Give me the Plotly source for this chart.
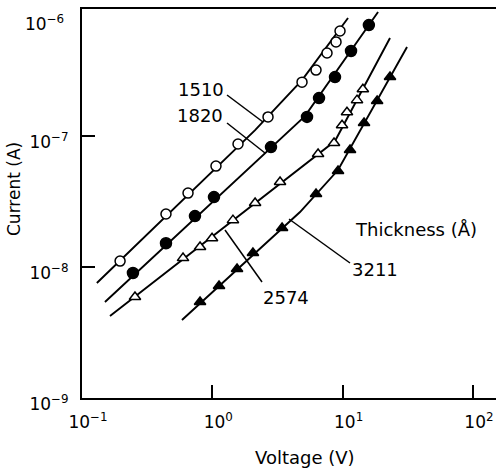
import plotly.graph_objects as go

# ---- data (Voltage in V, Current in A) ----
v_1510 = [0.196, 0.441, 0.651, 1.067, 1.575, 2.676, 4.88, 6.25, 7.59, 8.90, 9.55]
i_1510 = [1.11e-8, 2.54e-8, 3.67e-8, 5.90e-8, 8.69e-8, 1.40e-7, 2.58e-7, 3.19e-7, 4.31e-7, 5.23e-7, 6.34e-7]
fit_v_1510 = [0.130, 2.13, 4.88, 11.0]
fit_i_1510 = [7.55e-9, 1.11e-7, 2.67e-7, 7.96e-7]

v_1820 = [0.246, 0.441, 0.736, 1.03, 2.82, 5.33, 6.59, 8.74, 11.6, 15.9]
i_1820 = [9.0e-9, 1.52e-8, 2.45e-8, 3.42e-8, 8.24e-8, 1.40e-7, 1.95e-7, 2.82e-7, 4.46e-7, 7.03e-7]
fit_v_1820 = [0.150, 5.14, 18.7]
fit_i_1820 = [5.41e-9, 1.42e-7, 8.85e-7]

v_2574 = [0.255, 0.596, 0.805, 0.995, 1.44, 2.13, 3.31, 6.48, 8.59, 9.90, 10.8, 12.9, 14.3]
i_2574 = [5.90e-9, 1.17e-8, 1.42e-8, 1.66e-8, 2.28e-8, 3.08e-8, 4.46e-8, 7.29e-8, 8.85e-8, 1.21e-7, 1.52e-7, 1.88e-7, 2.28e-7]
fit_v_2574 = [0.164, 8.74, 23.1]
fit_i_2574 = [4.23e-9, 9.16e-8, 5.60e-7]

v_3211 = [0.805, 1.126, 1.548, 2.05, 3.43, 6.25, 9.22, 11.4, 14.6, 18.4, 23.1]
i_3211 = [5.41e-9, 7.16e-9, 9.66e-9, 1.28e-8, 1.99e-8, 3.61e-8, 5.41e-8, 7.82e-8, 1.26e-7, 1.85e-7, 2.82e-7]
fit_v_3211 = [0.585, 4.71, 9.22, 31.2]
fit_i_3211 = [3.94e-9, 2.63e-8, 5.50e-8, 4.78e-7]

x_tick_vals = [0.1, 1, 10, 100]
x_tick_text = ["10<sup>−1</sup>", "10<sup>0</sup>", "10<sup>1</sup>", "10<sup>2</sup>"]
y_tick_vals = [1e-9, 1e-8, 1e-7]
y_tick_text = ["10<sup>−9</sup>", "10<sup>−8</sup>", "10<sup>−7</sup>"]
y_top_label = "10<sup>−6</sup>"

thickness_labels = ["1510", "1820", "2574", "3211"]

FONT = "DejaVu Sans"

W, H = 496, 473
L, R, T, B = 82, 0, 9, 75
pw, ph = W - L - R, H - T - B


def px(xp):
    return (xp - L) / pw


def py(yp):
    return 1 - (yp - T) / ph


fig = go.Figure()

series = [
    (v_1510, i_1510, fit_v_1510, fit_i_1510, "circle", "white", 10),
    (v_1820, i_1820, fit_v_1820, fit_i_1820, "circle", "black", 11),
    (v_2574, i_2574, fit_v_2574, fit_i_2574, "triangle-up", "white", 10),
    (v_3211, i_3211, fit_v_3211, fit_i_3211, "triangle-up", "black", 10),
]
for (vx, iy, fvx, fiy, sym, fill, sz), name in zip(series, thickness_labels):
    fig.add_trace(go.Scatter(x=fvx, y=fiy, mode="lines",
                             line=dict(color="black", width=1.9),
                             showlegend=False, hoverinfo="skip"))
    fig.add_trace(go.Scatter(x=vx, y=iy, mode="markers", name=name,
                             marker=dict(symbol=sym, size=sz, color=fill,
                                         line=dict(color="black", width=1.5)),
                             showlegend=False))

# label centres and leader lines (page pixels)
label_px = {
    "1510": (201, 89),
    "1820": (200, 115),
    "2574": (286, 297),
    "3211": (375, 269),
}
leader_px = {
    "1510": ((227, 95), (263, 122)),
    "1820": ((227, 123), (265, 153)),
    "2574": ((225, 230), (262, 282)),
    "3211": ((289, 219), (350, 263)),
}


def text_at(xp, yp, text, size=18, **kw):
    opts = dict(x=px(xp), y=py(yp), xref="paper", yref="paper", text=text,
                showarrow=False, xanchor="center", yanchor="middle",
                font=dict(family=FONT, size=size, color="black"))
    opts.update(kw)
    fig.add_annotation(**opts)


for name in thickness_labels:
    lx, ly = label_px[name]
    text_at(lx, ly, name)
    (x0, y0), (x1, y1) = leader_px[name]
    fig.add_shape(type="line", xref="paper", yref="paper",
                  x0=px(x0), y0=py(y0), x1=px(x1), y1=py(y1),
                  line=dict(color="black", width=1.5))

text_at(416, 229, "Thickness (Å)")
text_at(66, 23, y_top_label, size=17, xanchor="right")
text_at(14, 189, "Current (A)", size=17, textangle=-90)
text_at(305, 457, "Voltage (V)")

fig.update_xaxes(type="log", range=[-1, 2.177], tickvals=x_tick_vals, ticktext=x_tick_text,
                 ticks="inside", ticklen=13, tickwidth=1.5, tickcolor="black",
                 showline=True, linecolor="black", linewidth=2, mirror=True,
                 showgrid=False, zeroline=False, ticklabelstandoff=8, ticklabelshift=6,
                 tickfont=dict(family=FONT, size=17, color="black"))
fig.update_yaxes(type="log", range=[-9, -6.03], tickvals=y_tick_vals, ticktext=y_tick_text,
                 ticks="inside", ticklen=13, tickwidth=1.5, tickcolor="black",
                 showline=True, linecolor="black", linewidth=2, mirror=False,
                 showgrid=False, zeroline=False, ticklabelstandoff=8, ticklabelshift=6,
                 tickfont=dict(family=FONT, size=17, color="black"))

fig.update_layout(width=W, height=H, margin=dict(l=L, r=R, t=T, b=B),
                  plot_bgcolor="white", paper_bgcolor="white", showlegend=False)

fig.write_html("out.html")
